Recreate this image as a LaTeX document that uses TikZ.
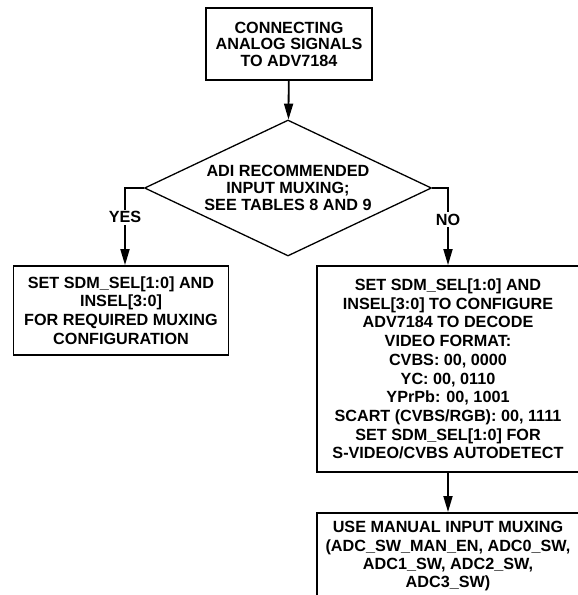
\documentclass[tikz,border=0pt]{standalone}
\usepackage{fontspec}
\setmainfont{Liberation Sans}
\usetikzlibrary{shapes.geometric}
\usetikzlibrary{arrows.meta}
\tikzset{
	block/.style={
		draw,
		line width=1.8pt,
		rectangle,
		inner sep=0pt,
		align=center,
		font=\fontsize{16.2}{18.7}\selectfont\bfseries},
	decision/.style={
		draw,
		line width=1.3pt,
		diamond,
		aspect=2.11,
		inner sep=0pt,
		align=center,
		minimum width=287pt,
		minimum height=136pt,
		font=\fontsize{16.2}{16.7}\selectfont\bfseries},
	arr/.style={
		draw,
		line width=1.8pt,
		-{Triangle[length=16pt,width=9pt]}},
	lbl/.style={
		fill=white,
		inner sep=1.5pt,
		font=\fontsize{16.2}{18}\selectfont\bfseries}
}

\begin{document}
\begin{tikzpicture}[x=1pt,y=-1pt]
	\useasboundingbox (0,0) rectangle (578,595);
	\node[block, minimum width=166pt, minimum height=72pt, font=\fontsize{16.2}{16.5}\selectfont\bfseries] (start) at (289,44) {CONNECTING\\ANALOG SIGNALS\\TO ADV7184};
	\node[decision] (mux) at (288,188) {ADI RECOMMENDED\\INPUT MUXING;\\SEE TABLES 8 AND 9};
	\node[block, minimum width=215pt, minimum height=89pt] (yesbox) at (121,310.5) {SET SDM\_SEL[1:0] AND\\INSEL[3:0]\\FOR REQUIRED MUXING\\CONFIGURATION};
	\node[block, minimum width=262pt, minimum height=206pt] (nobox) at (448,369) {SET SDM\_SEL[1:0] AND\\INSEL[3:0] TO CONFIGURE\\ADV7184 TO DECODE\\VIDEO FORMAT:\\CVBS: 00, 0000\\YC: 00, 0110\\YPrPb: 00, 1001\\SCART (CVBS/RGB): 00, 1111\\SET SDM\_SEL[1:0] FOR\\S-VIDEO/CVBS AUTODETECT};
	\node[block, anchor=north, minimum width=262pt, minimum height=87pt, font=\fontsize{16.2}{18.3}\selectfont\bfseries] (manual) at (448,512) {USE MANUAL INPUT MUXING\\(ADC\_SW\_MAN\_EN, ADC0\_SW,\\ADC1\_SW, ADC2\_SW,\\ADC3\_SW)};
	\coordinate (yesturn) at (125,188);
	\coordinate (noturn) at (448,188);
	\draw[arr] (start) -- (mux);
	\draw[arr] (mux.west) -- (yesturn) -- node[lbl, pos=0.38] {YES} (yesturn |- yesbox.north);
	\draw[arr] (mux.east) -- (noturn) -- node[lbl, pos=0.41] {NO} (noturn |- nobox.north);
	\draw[arr] (nobox) -- (manual);
\end{tikzpicture}
\end{document}
